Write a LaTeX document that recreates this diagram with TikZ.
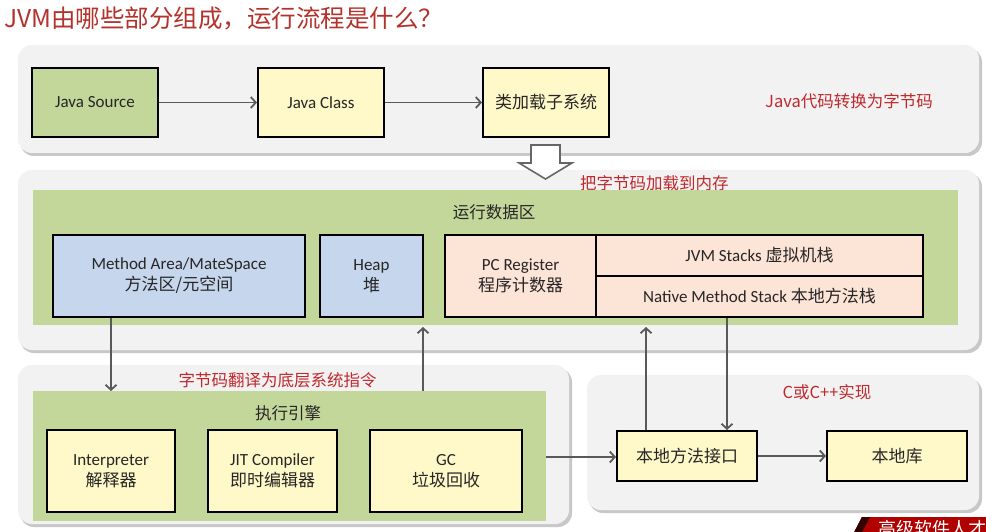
\documentclass[tikz,border=0pt]{standalone}
\usepackage{fontspec}
\setmainfont{Carlito}
\newfontfamily\cjk{Noto Sans CJK SC}
\usetikzlibrary{arrows.meta}
\definecolor{titlered}{HTML}{B3322C}
\definecolor{labred}{HTML}{C0282D}
\definecolor{panelgray}{HTML}{F2F2F2}
\definecolor{shadowgray}{HTML}{C8C8C8}
\definecolor{boxgreen}{HTML}{C4D79B}
\definecolor{boxyellow}{HTML}{FFF8C8}
\definecolor{boxblue}{HTML}{C6D6EC}
\definecolor{boxpeach}{HTML}{FCE4D6}
\definecolor{arrowgray}{HTML}{595959}
\definecolor{bannerred}{HTML}{B00000}
\tikzset{
  panel/.style={fill=panelgray, draw=none, rounded corners=14pt},
  panelshadow/.style={fill=shadowgray, draw=none, rounded corners=14pt},
  area/.style={fill=boxgreen, draw=none},
  box/.style={draw=black, line width=2pt, inner sep=0pt, align=center, text=black!85, font=\fontsize{17}{21}\selectfont},
  redlab/.style={text=labred, font=\cjk\fontsize{16.5}{20}\selectfont, inner sep=0pt},
  arealab/.style={text=black!85, font=\cjk\fontsize{16.5}{19}\selectfont, inner sep=0pt},
  conn/.style={draw=arrowgray, line width=1.8pt, -{Straight Barb[length=5pt,width=11pt]}},
}
\newcommand{\zh}[1]{{\cjk\fontsize{17}{21}\selectfont #1}}
\begin{document}
\begin{tikzpicture}[x=1pt,y=-1pt]
\useasboundingbox (0,0) rectangle (986,532);
\fill[white] (0,0) rectangle (986,532);
% title
\node[anchor=west, text=titlered, font=\cjk\fontsize{24.5}{28}\selectfont, inner sep=0pt] (title) at (4,18) {JVM由哪些部分组成，运行流程是什么？};

% panels with shadows
\fill[panelshadow] (20,48) rectangle (982,156);
\fill[panel] (18,45) rectangle (979,153);
\fill[panelshadow] (20,173) rectangle (982,353);
\fill[panel] (18,170) rectangle (979,350);
\fill[panelshadow] (20,368) rectangle (572,527);
\fill[panel] (18,365) rectangle (569,524);
\fill[panelshadow] (589,378) rectangle (982,513);
\fill[panel] (587,375) rectangle (979,510);

% top row
\node[box, fill=boxgreen, minimum width=126pt, minimum height=69pt] (src) at (95,102.5) {Java Source};
\node[box, fill=boxyellow, minimum width=126pt, minimum height=69pt] (cls) at (321,102.5) {Java Class};
\node[box, fill=boxyellow, minimum width=126pt, minimum height=69pt] (loader) at (546,102.5) {\zh{类加载子系统}};
\draw[conn] (src) -- (cls);
\draw[conn] (cls) -- (loader);
\node[redlab, anchor=west] (lab1) at (765,101) {Java代码转换为字节码};

% hollow arrow
\draw[fill=white, draw=black!60, line width=1.6pt, line join=miter]
  (531,145) -- (560,145) -- (560,163) -- (572,163) -- (545.5,179) -- (519,163) -- (531,163) -- cycle;
\node[redlab, anchor=west] (lab2) at (580,183) {把字节码加载到内存};

% runtime data area
\fill[area] (33,190) rectangle (958,325);
\node[arealab] (rda) at (494,212) {运行数据区};
\node[box, fill=boxblue, minimum width=252pt, minimum height=82pt] (method) at (179,276) {Method Area/MateSpace\\\zh{方法区/元空间}};
\node[box, fill=boxblue, minimum width=103pt, minimum height=82pt] (heap) at (371.5,276) {Heap\\\zh{堆}};
\node[box, fill=boxpeach, minimum width=151pt, minimum height=82pt] (pc) at (520.5,276) {PC Register\\\zh{程序计数器}};
\node[box, fill=boxpeach, minimum width=327pt, minimum height=41pt] (jvms) at (759.5,255.5) {JVM Stacks \zh{虚拟机栈}};
\node[box, fill=boxpeach, minimum width=327pt, minimum height=41pt] (nms) at (759.5,296.5) {Native Method Stack \zh{本地方法栈}};

% execution engine
\node[redlab] (lab3) at (277.5,380) {字节码翻译为底层系统指令};
\fill[area] (33,391) rectangle (546,521);
\node[arealab] (ee) at (288,413) {执行引擎};
\node[box, fill=boxyellow, minimum width=128pt, minimum height=82pt] (interp) at (111,471) {Interpreter\\\zh{解释器}};
\node[box, fill=boxyellow, minimum width=129pt, minimum height=82pt] (jit) at (272.5,471) {JIT Compiler\\\zh{即时编辑器}};
\node[box, fill=boxyellow, minimum width=152pt, minimum height=82pt] (gc) at (446,471) {GC\\\zh{垃圾回收}};
\coordinate (eeright) at (546,457);
\coordinate (eetop1) at (111,391);
\coordinate (eetop2) at (423,391);
\coordinate (mabot) at (111,325);
\coordinate (heapbot) at (423,325);

% native
\node[redlab] (lab4) at (827,392) {C或C++实现};
\node[box, fill=boxyellow, minimum width=140pt, minimum height=50pt] (jni) at (687,456) {\zh{本地方法接口}};
\node[box, fill=boxyellow, minimum width=140pt, minimum height=50pt] (lib) at (897,456) {\zh{本地库}};
\coordinate (nmsbot1) at (646,325);

% connectors
\draw[conn] (method.south -| mabot) -- (eetop1);
\draw[conn] (eetop2) -- (heapbot |- 0,327);
\draw[conn] (eeright) -- (jni.west |- eeright);
\draw[conn] (jni) -- (lib);
\draw[conn] (jni.north -| nmsbot1) -- (646,327);
\draw[conn] (nms.south -| 727,0) -- (jni.north -| 727,0);

% watermark banner (cut off)
\begin{scope}
\clip (0,0) rectangle (986,532);
\fill[bannerred] (862,517) -- (986,517) -- (986,540) -- (850,540) -- cycle;
\fill[black!70!bannerred] (862,517) -- (870,517) -- (858,540) -- (850,540) -- cycle;
\node[anchor=north west, text=white, font=\cjk\fontsize{18}{20}\selectfont, inner sep=0pt] (wm) at (878,520) {高级软件人才};
\end{scope}
\end{tikzpicture}
\end{document}
